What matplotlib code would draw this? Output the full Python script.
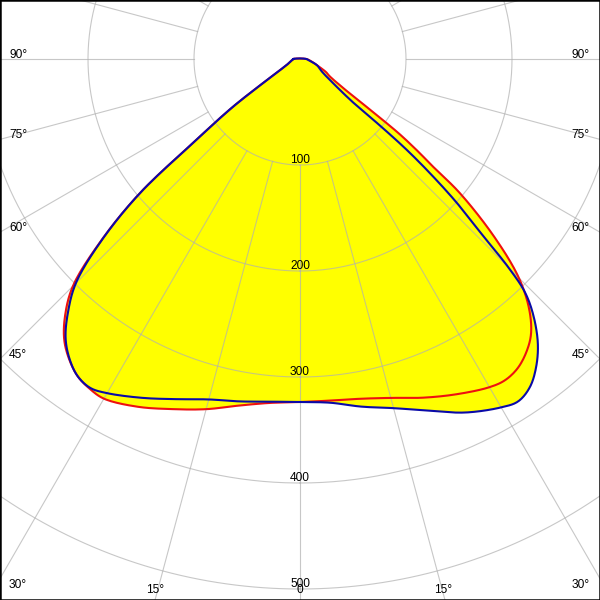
import numpy as np
import matplotlib
matplotlib.use("Agg")
import matplotlib.pyplot as plt

# ---- data (luminous intensity, cd) ; negative angle = left half, positive = right half
red_angles = [-90, -80, -70, -60, -57.5, -54.5, -52, -50, -47.5, -45, -42.5, -40, -37.5, -35,
              -32.5, -30, -25, -20, -15, -10, -5, 0,
              5, 10, 15, 20, 25, 30, 32.5, 35, 37.5, 40, 42.5, 45, 47.5, 50, 51, 52, 53, 54,
              56, 60, 63, 70, 80, 90]
red_values = [6, 8, 11, 24, 37, 78, 125, 198, 256, 303, 328, 346, 357.5, 365.5,
              369, 370, 362, 351.5, 342, 332, 325.7, 323.6,
              323.5, 325.5, 331, 340, 349, 357.5, 359.5, 357, 350, 339, 320, 292, 249, 197, 162, 140, 117, 85,
              50, 32, 28, 17, 10, 6]

blue_angles = [-90, -80, -70, -60, -57.5, -54.5, -52, -50, -47.5, -45, -42.5, -40, -37.5, -35,
               -32.5, -30, -25, -20, -15, -10, -5, 0,
               5, 10, 15, 20, 25, 30, 32.5, 35, 37.5, 40, 42.5, 44, 45, 46, 47.5, 48.7, 49.6, 50.2,
               50.7, 54, 60, 70, 80, 90]
blue_values = [6, 8, 11, 24, 37, 78, 125, 198, 255, 299, 324, 344, 357, 365.5,
               368, 364, 352.7, 341.5, 332.5, 328, 324.5, 323.6,
               325.5, 333, 341, 353, 368, 379.5, 383, 378, 366, 349, 325, 305, 278, 240, 200, 163, 132, 100,
               65, 38, 24, 17, 9, 6]

ring_values = [100, 200, 300, 400, 500]
ring_labels = ["100", "200", "300", "400", "500"]
side_angles = [90, 75, 60, 45, 30]
side_labels = ["90°", "75°", "60°", "45°", "30°"]
bottom_angles = [15, 0]
bottom_labels = ["15°", "0"]

# ---- layout
K = 1.06          # pixels per cd
CX, CY = 300, 59  # pole position in pixels
FONT = dict(family=["Liberation Sans", "DejaVu Sans"], fontsize=8.6, color="black")

fig = plt.figure(figsize=(6, 6), dpi=100)
ax = fig.add_axes([0, 0, 1, 1])
ax.set_xlim(-CX / K, (600 - CX) / K)
ax.set_ylim(-(600 - CY) / K, CY / K)
ax.set_xticks([]); ax.set_yticks([])
for s in ax.spines.values():
    s.set_color("black"); s.set_linewidth(1.8); s.set_zorder(10)


def px(x, y):
    return (x - CX) / K, -(y - CY) / K


def polar_xy(angles, values):
    g = np.radians(np.asarray(angles, float))
    v = np.asarray(values, float)
    return v * np.sin(g), -v * np.cos(g)


def smooth_closed(x, y, n=12):
    """Centripetal Catmull-Rom through the given points, closed loop (drawing only)."""
    P = np.column_stack([x, y])
    m = len(P)
    out = []
    for i in range(m):
        p0, p1, p2, p3 = P[(i - 1) % m], P[i], P[(i + 1) % m], P[(i + 2) % m]
        def tj(ti, a, b):
            return ti + max(np.linalg.norm(b - a), 1e-6) ** 0.5
        t0 = 0.0; t1 = tj(t0, p0, p1); t2 = tj(t1, p1, p2); t3 = tj(t2, p2, p3)
        for t in np.linspace(t1, t2, n, endpoint=False):
            a1 = (t1 - t) / (t1 - t0) * p0 + (t - t0) / (t1 - t0) * p1
            a2 = (t2 - t) / (t2 - t1) * p1 + (t - t1) / (t2 - t1) * p2
            a3 = (t3 - t) / (t3 - t2) * p2 + (t - t2) / (t3 - t2) * p3
            b1 = (t2 - t) / (t2 - t0) * a1 + (t - t0) / (t2 - t0) * a2
            b2 = (t3 - t) / (t3 - t1) * a2 + (t - t1) / (t3 - t1) * a3
            out.append((t2 - t) / (t2 - t1) * b1 + (t - t1) / (t2 - t1) * b2)
    out.append(out[0])
    out = np.array(out)
    return out[:, 0], out[:, 1]


rx, ry = smooth_closed(*polar_xy(red_angles, red_values))
bx, by = smooth_closed(*polar_xy(blue_angles, blue_values))
ax.fill(rx, ry, color="#ffff00", lw=0, zorder=1)
ax.fill(bx, by, color="#ffff00", lw=0, zorder=1)

# grid
t = np.linspace(0, 2 * np.pi, 721)
for r in range(100, 701, 100):
    ax.plot(r * np.sin(t), -r * np.cos(t), color="#b0b0b0", alpha=0.7, lw=0.8, zorder=2)
for a in range(0, 360, 15):
    g = np.radians(a)
    ax.plot([100 * np.sin(g), 800 * np.sin(g)], [-100 * np.cos(g), -800 * np.cos(g)],
            color="#b0b0b0", alpha=0.7, lw=0.8, zorder=2)

ax.plot(rx, ry, color="#ee1010", lw=1.5, zorder=3, solid_joinstyle="round")
ax.plot(bx, by, color="#0a0aa8", lw=1.5, zorder=4, solid_joinstyle="round")

# ring labels
for r, lab in zip(ring_values, ring_labels):
    ax.text(0, -r + 2 / K, lab, ha="center", va="baseline", zorder=6, **FONT)

# side angle labels
for a, lab in zip(side_angles, side_labels):
    ycross = CY + CX / np.tan(np.radians(a)) if a < 90 else CY
    base = ycross - 1 if ycross < 560 else 588
    ax.text(*px(9, base), lab, ha="left", va="baseline", zorder=6, **FONT)
    ax.text(*px(590, base), lab, ha="right", va="baseline", zorder=6, **FONT)

# bottom angle labels
for a, lab in zip(bottom_angles, bottom_labels):
    if a == 0:
        ax.text(*px(CX, 593), lab, ha="center", va="baseline", zorder=6, **FONT)
    else:
        d = (590 - CY) * np.tan(np.radians(a))
        ax.text(*px(CX - d - 3, 593), lab, ha="center", va="baseline", zorder=6, **FONT)
        ax.text(*px(CX + d + 1, 593), lab, ha="center", va="baseline", zorder=6, **FONT)

fig.savefig("out.png", dpi=100)
